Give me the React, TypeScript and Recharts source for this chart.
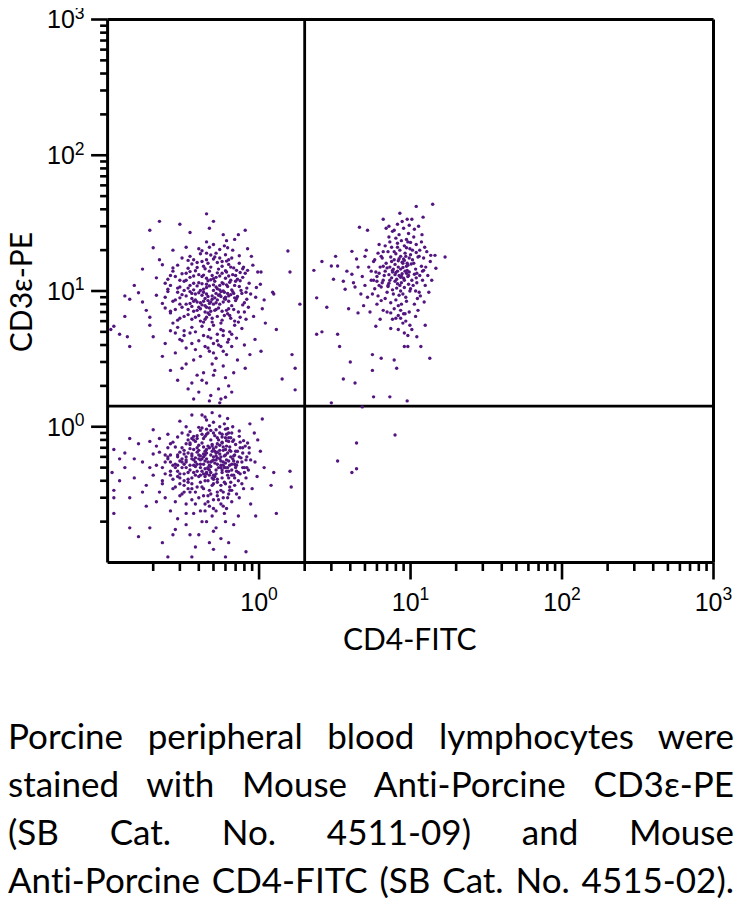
import React from 'react';
import { ScatterChart, Scatter, XAxis, YAxis, ReferenceLine } from 'recharts';

// Quadrant gates
const gateX = 2;
const gateY = 1.42;

// Axis ticks (log decades with minor ticks)
const logTicks = [0.2, 0.3, 0.4, 0.5, 0.6, 0.7, 0.8, 0.9, 1, 2, 3, 4, 5, 6, 7, 8, 9, 10, 20, 30, 40, 50, 60, 70, 80, 90, 100, 200, 300, 400, 500, 600, 700, 800, 900, 1000];
const majorLabels: Record<string, string> = { '1': '0', '10': '1', '100': '2', '1000': '3' };

// CD3+ CD4- population (upper left)
const cd3PosCd4Neg: number[][] = [
  [.47,8.1],[.38,6.4],[.55,11],[.42,9.3],[.61,7.2],[.33,12],[.5,5.6],[.44,8.8],[.58,10],[.36,7.7],
  [.52,9.6],[.4,11.5],[.46,6.9],[.63,8.4],[.35,9.9],[.49,13],[.57,6.1],[.41,7.4],[.53,8.6],[.45,10.6],
  [.39,8.3],[.6,12.4],[.48,7.1],[.34,6.7],[.56,9.1],[.43,5.9],[.51,11.8],[.37,10.2],[.65,9.4],[.46,8.5],
  [.54,7.5],[.42,12.8],[.3,8.9],[.59,6.6],[.47,14],[.4,9.7],[.62,10.8],[.36,5.4],[.5,8],[.44,7],
  [.57,13.5],[.33,9.2],[.49,6.3],[.45,11.2],[.66,7.8],[.38,8.6],[.53,10.4],[.41,6],[.6,9],[.48,12.1],
  [.35,11],[.52,7.3],[.43,9.8],[.58,8.3],[.31,7.6],[.47,5.2],[.55,12.9],[.39,10.9],[.62,6.8],[.45,9.5],
  [.5,10.1],[.37,8.4],[.64,11.6],[.42,7.9],[.56,5.8],[.34,10.5],[.48,15],[.53,6.5],[.4,13.2],[.59,9.8],
  [.44,6.2],[.61,13.8],[.36,9.6],[.51,8.9],[.46,11.9],[.32,6.5],[.57,7.1],[.43,10.3],[.67,9.9],[.39,7.2],
  [.49,9.2],[.54,14.5],[.41,8.2],[.63,7.4],[.35,12.6],[.47,6.7],[.58,11.3],[.38,5],[.52,10.7],[.45,7.6],
  [.6,8.7],[.33,8],[.5,12.3],[.42,5.5],[.55,9.4],[.37,11.4],[.48,8.3],[.65,12],[.4,6.6],[.53,13.6],
  [.46,9.1],[.52,8.2],[.41,10.1],[.56,9.9],[.44,7.8],[.5,11.1],[.38,9.5],[.59,8.8],[.47,10.9],[.43,8.4],
  [.54,9.3],[.4,7.6],[.49,8.7],[.57,11.5],[.36,8.8],[.62,9.6],[.45,12.4],[.51,7.2],[.42,11.3],[.55,8],
  [.63,9.2],[.37,7.1],[.52,12.6],[.47,7.5],[.55,10.2],[.43,13.1],[.49,5.9],[.35,8.1],[.61,11.1],[.45,6.4],
  [.27,8.4],[.29,10.5],[.26,7.1],[.3,6.3],[.28,12.8],[.31,9.4],[.25,9.9],[.32,11.8],[.29,5.4],[.27,14.8],
  [.7,8.5],[.74,10.8],[.68,7.3],[.77,9.6],[.72,12.2],[.8,7],[.69,5.6],[.75,11.9],[.82,9.8],[.71,14.2],
  [.4,4.3],[.46,3.8],[.53,4.8],[.58,5.1],[.35,4.9],[.63,4.4],[.43,4.7],[.5,4.1],[.38,3.7],[.56,3.9],
  [.42,16.5],[.5,17.2],[.37,17],[.57,15.2],[.45,19],[.53,16.2],[.61,16.6],[.34,14.7],[.48,18.4],[.66,17.5],
  [.3,8],[.33,13.5],[.73,5.9],[.67,13.2],[.26,5.1],[.78,14.6],[.31,4.3],[.65,15],[.24,11.4],[.83,8.7],
  [.36,6.2],[.64,6.6],[.39,14.9],[.6,14.1],[.34,7.3],[.66,10.2],[.32,10.1],[.69,8.9],[.37,12.9],[.63,12.9],
  [.28,7.3],[.72,9.1],[.26,11],[.75,6.4],[.3,4.4],[.68,14.8],[.44,3.9],[.52,19],[.8,8.2],[.29,15.5],
  [.62,4.2],[.35,18],[.7,11.8],[.27,5.8],[.47,21],[.58,3.6],[.83,10.5],[.31,13.4],[.41,3.3],[.74,16],
  [.24,9],[.55,17.5],[.66,4.8],[.36,4.1],[.78,12.6],[.45,17],[.29,9.8],[.69,6],[.5,3.5],[.39,16.2],
  [.85,7.6],[.26,6.9],[.6,18.5],[.33,3.8],[.71,8.8],[.48,4.5],[.63,15.7],[.25,12.2],[.77,5.3],[.42,19.8],
  [.54,4],[.3,10.7],[.67,20],[.38,14.1],[.81,13.5],[.28,4.9],[.57,16.5],[.46,4.6],[.73,7],[.34,16.8],
  [.64,5],[.23,8.1],[.5,22],[.88,9.5],[.32,5.1],[.61,3.4],[.43,15.2],[.76,10.1],[.27,14],[.53,4.3],
  [.7,13],[.37,3.1],[.59,21.5],[.25,10.3],[.82,6.2],[.45,23],[.31,17.5],[.66,3.9],[.4,20.5],[.79,15],
  [.56,5.2],[.29,6.1],[.74,18.2],[.35,13.9],[.62,20.8],[.47,3.6],[.86,11.4],[.24,7.5],[.51,17.8],[.68,9.6],
  [.33,21],[.58,4.7],[.26,13],[.78,7.9],[.44,14.6],[.71,4.5],[.3,12],[.63,17],[.49,2.9],[.84,14.2],
  [.36,15.8],[.52,3.2],[.69,11],[.28,8.6],[.41,18.8],[.75,13.7],[.55,20.2],[.32,4.7],[.65,6.3],[.46,16],
  [.18,7.2],[.95,9],[.21,12.5],[.2,4.6],[1.02,11.2],[.16,9.7],[.47,29],[.35,27],[.58,26],[.92,6.5],
  [.6,2.3],[.43,2.5],[.36,2.1],[.54,1.9],[.72,3.1],[.31,2.7],[.22,17],[.89,18],[.19,5.6],[.98,13.8],
  [.3,31],[.69,24],
  [.13,6.5],[.12,4.8],[.14,3.9],[.15,11],[.17,14.5],[.23,3.3],[.26,2.6],[1.05,7.4],[.94,4.4],[.87,3.4],
  [.48,1.7],[.56,1.6],[.4,1.8],[.63,2],[.29,2.2],[.45,2.1],[.51,2.6],[.68,2.5],[.39,2.4],[.33,2.9],
  [.21,9.3],[.19,6.4],[.24,4.1],[.27,20],[.84,20.5],[.91,15.5],[1.08,8.6],[.8,4],[.17,8.3],[.23,15.6],
  [.55,1.5],[.47,1.55],[.6,1.65],[.37,1.6],[.5,2.4],[.42,2.2],[.34,1.9],[.66,1.8],[.58,2.8],[.28,3.5],
  [.11,5.5],[.14,8.7],[.2,20.8],[.73,26],[.81,2.7],[1.1,5.8],[.96,10.6],[.61,23.5],
  [.45,37],[.22,32.6],[.5,32.6],[.19,28],[.81,28],[1.23,9.8],[1.03,13.8],[1.03,3.6],[.105,5.2],[.13,9.2],[.135,4.6]
];

// CD3- CD4- population (lower left)
const doubleNeg: number[][] = [
  [.47,.52],[.38,.44],[.55,.63],[.42,.58],[.61,.47],[.33,.55],[.5,.38],[.44,.49],[.58,.71],[.36,.61],
  [.52,.45],[.4,.67],[.46,.4],[.63,.56],[.35,.48],[.49,.74],[.57,.42],[.41,.53],[.53,.59],[.45,.64],
  [.39,.36],[.6,.68],[.48,.46],[.34,.41],[.56,.52],[.43,.35],[.51,.66],[.37,.57],[.65,.6],[.46,.55],
  [.54,.5],[.42,.76],[.31,.5],[.59,.39],[.47,.7],[.4,.62],[.62,.64],[.36,.38],[.5,.57],[.44,.43],
  [.57,.77],[.33,.6],[.49,.42],[.45,.68],[.66,.53],[.38,.51],[.53,.65],[.41,.39],[.6,.5],[.48,.62],
  [.35,.69],[.52,.48],[.43,.6],[.58,.55],[.32,.45],[.47,.34],[.55,.73],[.39,.65],[.62,.44],[.45,.58],
  [.5,.6],[.37,.52],[.64,.71],[.42,.47],[.56,.37],[.34,.64],[.48,.8],[.53,.41],[.4,.73],[.59,.61],
  [.44,.4],[.61,.79],[.36,.58],[.51,.54],[.46,.72],[.32,.4],[.57,.46],[.43,.63],[.67,.58],[.39,.47],
  [.49,.56],[.54,.8],[.41,.5],[.63,.47],[.35,.74],[.47,.44],[.58,.67],[.38,.33],[.52,.64],[.45,.46],
  [.6,.54],[.33,.5],[.5,.69],[.42,.36],[.55,.58],[.37,.68],[.48,.51],[.65,.66],[.4,.43],[.53,.75],
  [.46,.49],[.51,.43],[.41,.57],[.56,.6],[.44,.66],[.49,.37],[.38,.55],[.59,.5],[.52,.71],[.43,.53],
  [.46,.5],[.52,.61],[.39,.53],[.57,.48],[.43,.71],[.5,.41],[.61,.57],[.37,.46],[.55,.67],[.48,.55],
  [.41,.44],[.58,.52],[.44,.62],[.53,.39],[.36,.63],[.62,.5],[.49,.72],[.45,.45],[.56,.56],[.4,.58],
  [.33,.57],[.66,.48],[.3,.45],[.68,.56],[.32,.63],[.64,.67],[.29,.52],[.7,.5],[.34,.35],[.6,.38],
  [.27,.52],[.29,.62],[.26,.44],[.3,.38],[.28,.71],[.31,.55],[.25,.58],[.32,.67],[.29,.47],[.27,.35],
  [.7,.52],[.74,.6],[.68,.44],[.77,.55],[.72,.66],[.8,.46],[.69,.37],[.75,.77],[.82,.57],[.71,.47],
  [.4,.3],[.46,.28],[.53,.33],[.58,.3],[.35,.33],[.63,.32],[.43,.31],[.5,.29],[.38,.27],[.56,.27],
  [.42,.88],[.5,.9],[.37,.85],[.57,.84],[.45,.96],[.53,.83],[.61,.88],[.34,.8],[.48,.94],[.66,.9],
  [.3,.42],[.33,.75],[.73,.4],[.67,.78],[.26,.55],[.78,.64],[.31,.32],[.65,.83],[.24,.62],[.83,.5],
  [.36,.35],[.64,.34],[.39,.82],[.6,.83],[.34,.39],[.66,.44],[.32,.53],[.69,.53],[.37,.8],[.63,.78],
  [.28,.28],[.44,.24],[.59,.23],[.74,.3],[.33,.23],[.23,.4],[.21,.52],[.79,.35],[.86,.7],[.22,.33],
  [.28,.5],[.72,.55],[.26,.62],[.75,.45],[.3,.31],[.68,.8],[.44,.27],[.52,.95],[.8,.5],[.29,.84],
  [.62,.3],[.35,.92],[.7,.66],[.27,.41],[.47,1.02],[.58,.26],[.83,.6],[.31,.7],[.41,.24],[.74,.85],
  [.24,.55],[.55,.9],[.66,.34],[.36,.29],[.78,.7],[.45,.88],[.29,.6],[.69,.42],[.5,.25],[.39,.86],
  [.85,.48],[.26,.47],[.6,.96],[.33,.27],[.71,.52],[.48,.32],[.63,.83],[.25,.7],[.77,.38],[.42,.98],
  [.54,.29],[.3,.65],[.67,1.0],[.38,.78],[.81,.72],[.28,.36],[.57,.88],[.46,.31],[.73,.46],[.34,.87],
  [.64,.36],[.23,.5],[.5,1.08],[.88,.57],[.32,.37],[.61,.25],[.43,.82],[.76,.59],[.27,.77],[.53,.31],
  [.7,.74],[.37,.23],[.59,1.05],[.25,.6],[.82,.42],[.45,1.12],[.31,.9],[.66,.28],[.4,.99],[.79,.79],
  [.56,.34],[.29,.43],[.74,.93],[.35,.76],[.62,.97],[.47,.26],[.86,.64],[.24,.45],[.51,.86],[.68,.61],
  [.33,1.0],[.58,.33],[.26,.75],[.78,.5],[.44,.85],[.71,.32],[.3,.56],[.63,.9],[.49,.22],[.84,.76],
  [.36,.82],[.52,.24],[.69,.62],[.28,.53],[.41,.94],[.75,.7],[.55,1.0],[.32,.33],[.65,.39],[.46,.9],
  [.11,.68],[.107,.46],[.13,.64],[.11,.34],[.11,.3],[.11,.23],[.14,.18],[.16,.155],[.19,.18],[.25,.11],
  [.36,.11],[.6,.11],[.82,.12],[.5,.125],[.23,.14],[.28,.175],[1.05,1.14],[1.25,.46],[1.6,.47],[1.63,.36],
  [1.2,.37],[1.3,.23],[.36,1.22],[.49,1.27],[.42,1.22],[.15,.42],[.17,.55],[.14,.3],[.18,.37],[.2,.63],
  [.16,.75],[.19,.5],[.21,.28],[.22,.82],[.18,.26],[.2,.44],[.15,.58],[.17,.33],[.21,.72],[.23,.38],
  [.94,.55],[.98,.8],[.9,.35],[1.02,.66],[.93,.9],[.88,.27],[.97,.43],[1.08,.5],[.95,.22],[.87,1.05],
  [.33,.19],[.45,.2],[.52,.18],[.4,.16],[.6,.2],[.29,.21],[.56,.15],[.47,.14],[.38,.13],[.68,.19],
  [.27,.16],[.63,.14],[.73,.22],[.42,.2],[.5,.17],[.35,.16],[.55,1.2],[.62,1.15],[.3,1.1],[.44,1.18],
  [.24,.3],[.26,.24],[.22,.65],[.25,.88],[.2,.95],[.19,.78],[.13,.5],[.12,.4],[.14,.82],[.12,.58],
  [.47,.48],[.41,.61],[.53,.53],[.44,.56],[.5,.44],[.38,.59],[.56,.5],[.43,.45],[.49,.66],[.52,.57],
  [.35,.52],[.6,.62],[.31,.58],[.64,.52],[.34,.46],[.63,.42],[.39,.7],[.57,.76],[.36,.42],[.61,.72]
];

// CD3+ CD4+ population (upper right)
const doublePos: number[][] = [
  [8.4,13],[7.1,11],[9.6,15.5],[7.8,17],[10.2,12],[6.8,14],[8.9,9.5],[7.5,12.5],[9.2,19],[8.1,10.5],
  [10.5,16],[6.6,12],[8.6,18],[9.9,10],[7.3,15],[8,8.6],[9.4,13.5],[7,9.8],[10.8,14.5],[8.7,11.5],
  [7.7,14.5],[9.1,16.8],[6.4,10.7],[8.3,15],[10,18.5],[7.4,8.2],[9.7,11.2],[8.5,20],[6.9,16],[9,12.4],
  [8.2,14],[7.6,10.2],[9.5,14.2],[8.8,16.3],[7.2,13.2],[10.4,11],[8,18.8],[9.3,9],[6.7,13],[8.6,12.6],
  [7.9,11.8],[9.8,17.5],[7,14.8],[8.4,9.3],[10.6,13.3],[7.5,16.5],[9.1,10.6],[8.2,21],[6.5,11.5],[9.6,12.8],
  [8.9,14.9],[7.3,12],[10.1,15.8],[8,13.7],[9.4,8.4],[7.8,19.5],[8.6,10],[6.8,8.8],[9.9,20.5],[7.6,13.8],
  [10.9,12.5],[8.3,16.7],[7.1,10.8],[9.2,14],[8.7,8],[7.4,17.8],[9.7,13],[8.1,12.2],[6.6,15.2],[10.3,17],
  [8.5,11],[9,17.2],[7.7,9.5],[8.8,13.4],[7.2,11.4],[9.5,16],[8.3,7.8],[10,10.4],[7.9,15.7],[9.3,18],
  [8.6,14.5],[9.1,12],[7.9,13.2],[9.4,15.2],[8.2,11.3],[8.9,16],[7.6,14.2],[9.8,13.8],[8.4,17.3],[8.7,12.9],
  [6,12.8],[6.3,15],[5.8,10.4],[6.1,9.2],[6.5,17.5],[5.9,13.8],[6.4,8.5],[6.2,11],[5.7,12],[6.6,19.5],
  [11,11.5],[11.5,13],[10.8,10],[11.8,15.2],[11.2,17.8],[12,12],[11.4,9.8],[10.9,19.2],[12.2,14.2],[11.1,8.8],
  [8,6.3],[9,6.8],[7.4,6.9],[8.6,7.2],[9.8,7],[7.8,7.4],[9.3,6],[8.3,6.6],
  [8.2,22.5],[9.1,21.5],[7.5,21],[10,22.8],[8.7,23.5],[7.1,19.5],[9.4,20.8],[10.3,20],
  [4.5,15],[5,18],[4.2,11.5],[4.7,9.5],[5.1,20],[4.4,17.2],[3.8,14],[4.9,7.8],
  [5.5,12],[12,14],[5.8,17],[12.5,11],[6,8],[11.5,20],[7.6,6.2],[9.4,24],[13,13],[5.3,15],
  [10.8,6.5],[6.2,22],[12.2,17.5],[5.6,9.5],[8.4,26],[9.9,5.6],[13.5,16.5],[6.1,19],[7.4,5.3],[11.8,23],
  [5,11],[9.6,23],[11.2,7.2],[6.3,6.2],[12.8,19.5],[8,24.5],[5.5,14],[11.6,9.2],[8.9,5.8],[6.8,21.5],
  [13.8,12],[5.2,9],[10.5,25],[5.9,5.5],[11,13.5],[8.6,6.3],[10.9,22],[4.8,12.8],[12.3,8.3],[7.3,23],
  [9.1,4.9],[5.7,16.5],[11.9,26],[6.6,7.2],[13.2,9.8],[7.8,28],[6,11.8],[10.2,5.2],[7.2,25],[12.6,15],
  [6.4,18],[9.7,26.5],[5.4,7],[12.4,21],[8.3,5.2],[10.6,8],[7,7],[11.4,18],[6.2,13.5],[9.2,6.8],
  [7.2,30],[8.2,31],[9,29],[9.8,30.5],[7.6,27.5],[10.6,28.5],[8.8,32.5],[6.9,29],[11.3,30],[5.2,28],
  [14,43.6],[10.9,42],[8.5,37.4],[6.6,33.8],[9.5,33.8],[10.2,33.8],[12.1,35],[4.6,29.5],[16.9,17.8],[14.5,18.3],
  [13.6,18.3],[14.7,14.7],[4.1,19.6],[3.2,18],[3,15.3],[3.3,15.3],[3.1,12.2],[3.6,11.8],[4.1,13.3],[3.7,10.3],
  [4.3,10.7],[2.8,7.6],[3.9,7.4],[4.5,6.9],[2.6,5],[3.3,4.8],[3.4,3.9],[4,3],[3.6,2.25],[4.3,2.1],
  [5.6,2.6],[5.7,1.66],[7.3,1.66],[9.5,1.55],[3,1.5],[13.4,3.2],[8.1,2.7],[5.6,3.4],[6.4,3.2],[7.8,3.1],
  [9.1,3.9],[9.6,3.9],[11.7,3.9],[11,4.6],[9.6,4.7],[12.5,5.6]
];

// Sparse events between / outside the main populations
const scattered: number[][] = [
  [1.55,19.7],[1.6,13.8],[1.86,8],[1.65,3.4],[1.73,2.7],[1.42,2.25],[1.73,1.87],[2.3,14.2],[2.4,8.9],[2.4,4.8],
  [2.6,16.5],[1.3,5.2],[1.25,9.5],[4.8,1.4],
  [7.9,.87],[4.4,.76],[3.3,.56],[4.1,.46],[4.4,.49]
];

const toPoints = (arr: number[][]) => arr.map(([x, y]) => ({ x, y }));

const DOT = '#53157f';
const Dot = (props: any) => {
  const { cx, cy } = props;
  if (cx == null || cy == null) return null;
  return <circle cx={cx} cy={cy} r={1.7} fill={DOT} />;
};

const isMajor = (v: number) => majorLabels[String(v)] !== undefined;
const TICK_FONT = "'Liberation Sans', Arial, sans-serif";

const XTick = (props: any) => {
  const { x, y, payload } = props;
  const v = payload.value;
  const major = isMajor(v);
  return (
    <g>
      <line x1={x} x2={x} y1={y} y2={y + (major ? 17 : 8.5)} stroke="#000" strokeWidth={2.6} />
      {major && (
        <text x={x} y={y + 48.4} textAnchor="middle" fontFamily={TICK_FONT} fontSize={25} fill="#000">
          10<tspan dy={-10.5} fontSize={17.5}>{majorLabels[String(v)]}</tspan>
        </text>
      )}
    </g>
  );
};

const YTick = (props: any) => {
  const { x, y, payload } = props;
  const v = payload.value;
  const major = isMajor(v);
  return (
    <g>
      <line x1={x - (major ? 16.5 : 7.5)} x2={x} y1={y} y2={y} stroke="#000" strokeWidth={2.6} />
      {major && (
        <text x={x - 23} y={y + 8.8} textAnchor="end" fontFamily={TICK_FONT} fontSize={25} fill="#000">
          10<tspan dy={-9.5} fontSize={17.5}>{majorLabels[String(v)]}</tspan>
        </text>
      )}
    </g>
  );
};

const captionLines = [
  'Porcine peripheral blood lymphocytes were',
  'stained with Mouse Anti-Porcine CD3\u03b5-PE',
  '(SB Cat. No. 4511-09) and Mouse',
  'Anti-Porcine CD4-FITC (SB Cat. No. 4515-02).'
];

export default function App() {
  return (
    <div style={{ position: 'relative', margin: '-8px 0 0 -8px', width: 742, height: 901, fontFamily: 'Lato, sans-serif', color: '#000', fontVariantLigatures: 'none' }}>
      <ScatterChart width={742} height={668} margin={{ top: 19.5, right: 28.5, bottom: 0, left: 0 }}>
        <XAxis
          type="number"
          dataKey="x"
          scale="log"
          domain={[0.1, 1000]}
          allowDataOverflow
          ticks={logTicks}
          interval={0}
          tick={(p: any) => <XTick {...p} />}
          tickLine={false}
          tickSize={0}
          tickMargin={0}
          height={105.5}
          axisLine={{ stroke: '#000', strokeWidth: 3 }}
        />
        <YAxis
          type="number"
          dataKey="y"
          scale="log"
          domain={[0.1, 1000]}
          allowDataOverflow
          ticks={logTicks}
          interval={0}
          tick={(p: any) => <YTick {...p} />}
          tickLine={false}
          tickSize={0}
          tickMargin={0}
          width={107.6}
          axisLine={{ stroke: '#000', strokeWidth: 3 }}
        />
        <Scatter data={toPoints(doubleNeg)} shape={Dot} isAnimationActive={false} />
        <Scatter data={toPoints(cd3PosCd4Neg)} shape={Dot} isAnimationActive={false} />
        <Scatter data={toPoints(doublePos)} shape={Dot} isAnimationActive={false} />
        <Scatter data={toPoints(scattered)} shape={Dot} isAnimationActive={false} />
        <ReferenceLine x={gateX} stroke="#000" strokeWidth={2.8} />
        <ReferenceLine y={gateY} stroke="#000" strokeWidth={2.8} />
        <ReferenceLine x={1000} stroke="#000" strokeWidth={3} />
        <ReferenceLine y={1000} stroke="#000" strokeWidth={3} />
      </ScatterChart>
      <div
        style={{
          position: 'absolute', left: 20.2 - 100, top: 291.5 - 15, width: 200, height: 30,
          lineHeight: '30px', fontSize: 30, textAlign: 'center', transform: 'rotate(-90deg)', whiteSpace: 'nowrap'
        }}
      >
        CD3{'\u03b5'}-PE
      </div>
      <div
        style={{
          position: 'absolute', left: 409.7 - 150, top: 622.7, width: 300,
          lineHeight: '30px', fontSize: 30, textAlign: 'center', whiteSpace: 'nowrap'
        }}
      >
        CD4-FITC
      </div>
      <div style={{ position: 'absolute', left: 8, top: 710.8, width: 726 }}>
        {captionLines.map((line) => (
          <div
            key={line}
            style={{ fontSize: 35, lineHeight: '48.1px', height: 48.1, textAlign: 'justify', textAlignLast: 'justify', whiteSpace: 'nowrap' }}
          >
            {line}
          </div>
        ))}
      </div>
    </div>
  );
}
